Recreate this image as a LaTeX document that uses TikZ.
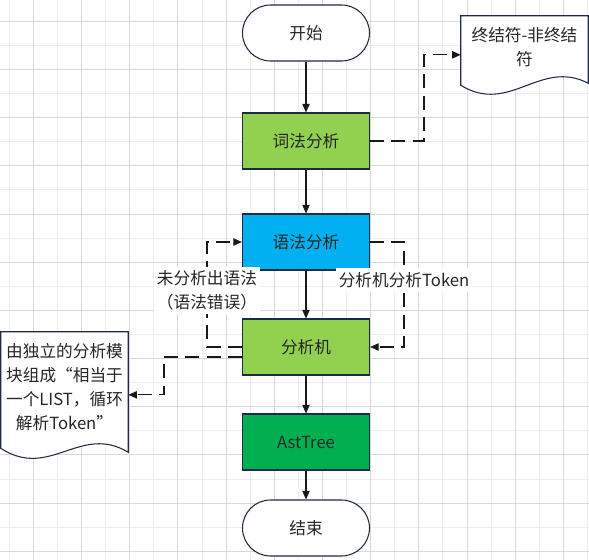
\documentclass[tikz,border=0pt]{standalone}
\usepackage{fontspec}
\setmainfont{Noto Sans CJK SC}
\usetikzlibrary{arrows.meta,calc}

\definecolor{gridminor}{HTML}{EDEDED}
\definecolor{gridmajor}{HTML}{D9D9D9}
\definecolor{edgenavy}{HTML}{1F2A44}
\definecolor{lexgreen}{HTML}{92D050}
\definecolor{parseblue}{HTML}{00B0F0}
\definecolor{treegreen}{HTML}{00B050}
\definecolor{inkgray}{HTML}{262626}

\pgfdeclarelayer{grid}
\pgfdeclarelayer{paper}
\pgfsetlayers{grid,paper,main}

\tikzset{
  stepbox/.style={rectangle, draw=edgenavy, line width=0.8pt, minimum width=95.25pt,
    minimum height=42pt, inner sep=0pt, text=inkgray},
  termbox/.style={stepbox, fill=white, rounded corners=21pt},
  doctext/.style={rectangle, text width=95.25pt, inner xsep=0pt, align=center, text=inkgray},
  docline/.style={draw=edgenavy, fill=white, line width=0.8pt},
  note/.style={fill=white, align=center, inner xsep=2pt, inner ysep=3pt, text=inkgray},
  flow/.style={draw=black!90, line width=0.9pt, -{Triangle[length=6.5pt,width=5.5pt]}},
  dashflow/.style={flow, line width=1pt, dash pattern=on 10.5pt off 5.5pt},
}

\begin{document}
\begin{tikzpicture}[x=0.75pt, y=-0.75pt, font=\fontsize{12.5}{18}\selectfont]
  \useasboundingbox (0,0) rectangle (589,560);

  % squared paper behind everything
  \begin{pgfonlayer}{grid}
    \fill[white] (0,0) rectangle (589,560);
    \foreach \gx in {9.3,57.48,...,589} \draw[gridminor, line width=0.75pt] (\gx,0) -- (\gx,560);
    \foreach \gy in {45.4,93.58,...,560} \draw[gridminor, line width=0.75pt] (0,\gy) -- (589,\gy);
    \foreach \gx in {33.4,81.58,...,589} \draw[gridmajor, line width=0.75pt] (\gx,0) -- (\gx,560);
    \foreach \gy in {21.3,69.48,...,560} \draw[gridmajor, line width=0.75pt] (0,\gy) -- (589,\gy);
  \end{pgfonlayer}

  % main column
  \node[termbox] (ks) at (306,33) {开始};
  \node[stepbox, fill=lexgreen] (cfa) at (306,141) {词法分析};
  \node[stepbox, fill=parseblue] (yfa) at (306,242) {语法分析};
  \node[stepbox, fill=lexgreen] (fxj) at (306,347) {分析机};
  \node[stepbox, fill=treegreen] (ast) at (306,442) {AstTree};
  \node[termbox] (js) at (306,528) {结束};

  % the two notes
  \node[doctext, minimum height=46.5pt] (tdoc) at (524.5,47) {终结符-非终结\\符};
  \node[doctext, minimum height=82.5pt] (ldoc) at (64.5,387)
    {由独立的分析模\\块组成“相当于\\一个LIST，循环\\解析Token”};

  \begin{pgfonlayer}{paper}
    \path[docline] (tdoc.north west) -- (tdoc.north east) -- ($(tdoc.south east)+(0,5)$)
      .. controls ($(tdoc.south east)+(-48,-20)$) and ($(tdoc.south west)+(49,37)$)
      .. ($(tdoc.south west)+(0,7)$) -- cycle;
    \path[docline] (ldoc.north west) -- (ldoc.north east) -- ($(ldoc.south east)+(0,10)$)
      .. controls ($(ldoc.south east)+(-48,-19)$) and ($(ldoc.south west)+(49,38)$)
      .. ($(ldoc.south west)+(0,6)$) -- cycle;
  \end{pgfonlayer}

  \draw[flow] (ks) -- (cfa);
  \draw[flow] (cfa) -- (yfa);
  \draw[flow] (yfa) -- (fxj);
  \draw[flow] (fxj) -- (ast);
  \draw[flow] (ast) -- (js);

  \draw[dashflow] (cfa.east) -- ++(54,0) |- (tdoc.187);
  \draw[dashflow] (yfa.east) -- ++(34,0) |- node[note, pos=0.181] {分析机分析Token} (fxj.east);
  \draw[dashflow] (fxj.west) -- ++(-35,0) |- node[note, pos=0.27] {未分析出语法\\（语法错误）} (yfa.west);
  \draw[dashflow] ([yshift=-7.5pt]fxj.west) -- ++(-78,0) |- (ldoc.353);

\end{tikzpicture}
\end{document}
